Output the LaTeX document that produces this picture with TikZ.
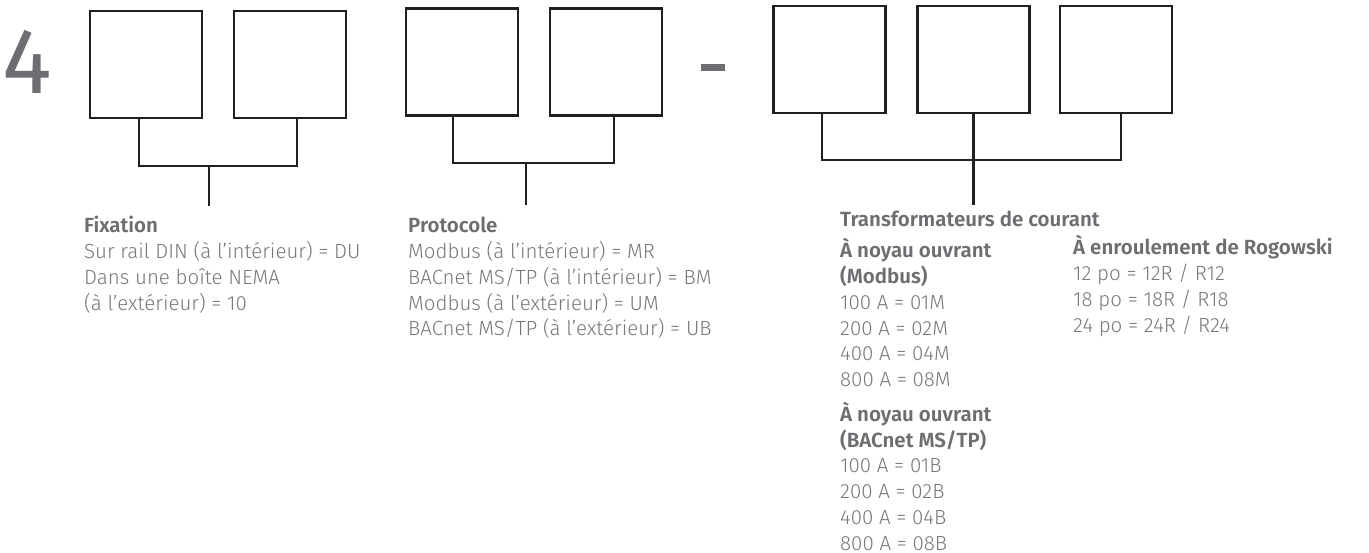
\documentclass[tikz,border=0pt]{standalone}
\usepackage{fontspec}
\setmainfont{Fira Sans}[UprightFont={* Light}, BoldFont={* SemiBold}]
\newfontfamily\digitfont{Fira Sans}
\definecolor{txtgray}{HTML}{6D6E71}
\definecolor{bodygray}{HTML}{77787B}
\definecolor{linedark}{HTML}{231F20}
\begin{document}
\begin{tikzpicture}[x=1pt,y=-1pt,
  digitbox/.style={draw=linedark, line width=2.3pt, minimum width=112pt, minimum height=107pt, inner sep=0pt},
  conn/.style={draw=linedark, line width=2.3pt},
  label/.style={anchor=base west, inner sep=0pt, text=bodygray, font=\fontsize{20.5}{25.7}\selectfont}]
\useasboundingbox (0,0) rectangle (1369,553);
% leading digit and dash
\node[anchor=base west, inner sep=0pt, text=txtgray, font=\digitfont\fontsize{93}{93}\selectfont] (four) at (2,94) {4};
\node[fill=txtgray, inner sep=0pt, minimum width=24pt, minimum height=7pt] (dash) at (713,67.5) {};
% boxes
\node[digitbox] (b1) at (146,64.5) {};
\node[digitbox] (b2) at (290,64.5) {};
\node[digitbox] (b3) at (462,62) {};
\node[digitbox] (b4) at (606,62) {};
\node[digitbox] (b5) at (829.5,59.5) {};
\node[digitbox] (b6) at (973.5,59.5) {};
\node[digitbox] (b7) at (1116,59.5) {};
% forks
\coordinate (f1) at (209,166);
\coordinate (t1) at (209,206);
\coordinate (f2) at (526,163);
\coordinate (t2) at (526,205);
\coordinate (f3) at (973.5,160);
\coordinate (t3) at (973.5,205);
\draw[conn] ([xshift=-7pt]b1.south) |- (f1) -| ([xshift=7pt]b2.south);
\draw[conn] (f1) -- (t1);
\draw[conn] ([xshift=-9pt]b3.south) |- (f2) -| ([xshift=8pt]b4.south);
\draw[conn] (f2) -- (t2);
\draw[conn] ([xshift=-7.5pt]b5.south) |- (f3) -| ([xshift=5pt]b7.south);
\draw[conn] (b6.south) -- (t3);
% texts
\node[label] (fix) at (84,233) {\begin{tabular}[t]{@{}l@{}}\textcolor{txtgray}{\textbf{Fixation}}\\
Sur rail DIN (à l’intérieur) = DU\\
Dans une boîte NEMA\\
(à l’extérieur) = 10\end{tabular}};
\node[label] (proto) at (408,233) {\begin{tabular}[t]{@{}l@{}}\textcolor{txtgray}{\textbf{Protocole}}\\
Modbus (à l’intérieur) = MR\\
BACnet MS/TP (à l’intérieur) = BM\\
Modbus (à l’extérieur) = UM\\
BACnet MS/TP (à l’extérieur) = UB\end{tabular}};
\node[label, text=txtgray] (tc) at (840,227) {\textbf{Transformateurs de courant}};
\node[label] (ouv) at (840,258) {\begin{tabular}[t]{@{}l@{}}\textcolor{txtgray}{\textbf{À noyau ouvrant}}\\
\textcolor{txtgray}{\textbf{(Modbus)}}\\
100 A = 01M\\
200 A = 02M\\
400 A = 04M\\
800 A = 08M\\[8pt]
\textcolor{txtgray}{\textbf{À noyau ouvrant}}\\
\textcolor{txtgray}{\textbf{(BACnet MS/TP)}}\\
100 A = 01B\\
200 A = 02B\\
400 A = 04B\\
800 A = 08B\end{tabular}};
\node[label] (rog) at (1073,255) {\begin{tabular}[t]{@{}l@{}}\textcolor{txtgray}{\textbf{À enroulement de Rogowski}}\\
12 po = 12R / R12\\
18 po = 18R / R18\\
24 po = 24R / R24\end{tabular}};
\end{tikzpicture}
\end{document}
